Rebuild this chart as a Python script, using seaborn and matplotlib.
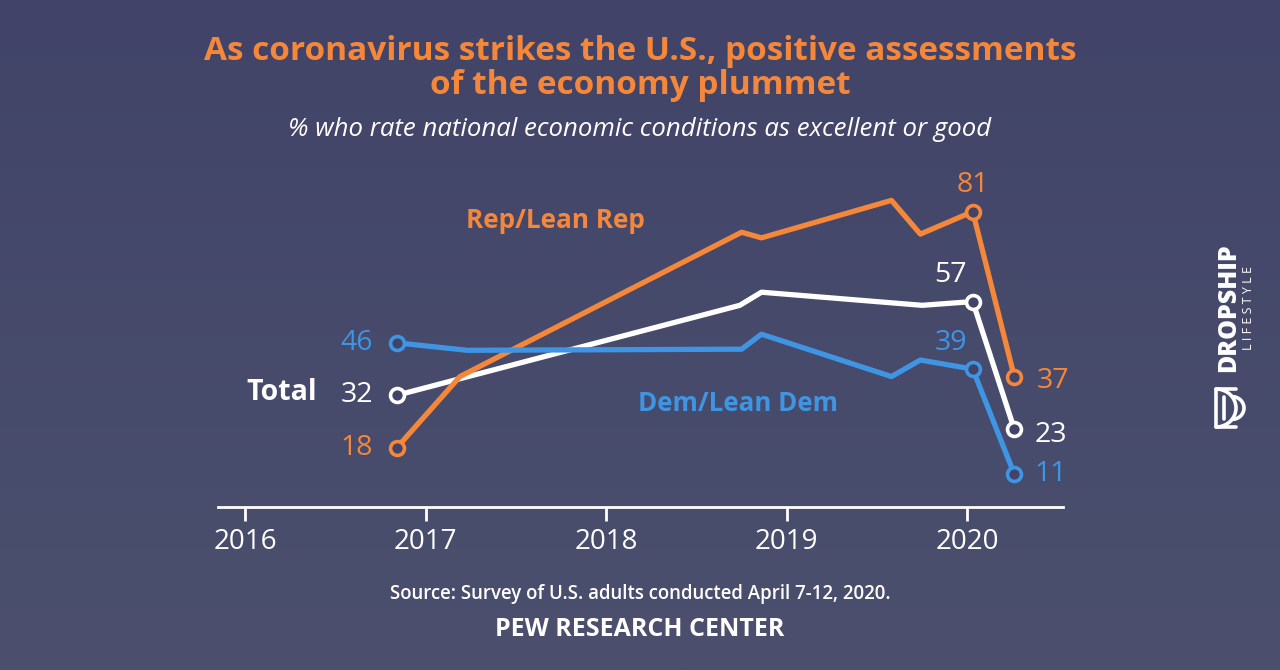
import matplotlib
matplotlib.use("Agg")
import matplotlib.pyplot as plt
import numpy as np
import pandas as pd
import seaborn as sns
from matplotlib.patches import Arc

# Data
rep_x = [2016.84, 2017.19, 2018.75, 2018.86, 2019.58, 2019.74, 2020.03, 2020.26]
rep_y = [18, 37, 75.5, 74, 84, 75, 81, 37]
total_x = [2016.84, 2018.74, 2018.86, 2019.75, 2020.03, 2020.26]
total_y = [32, 56, 59.5, 56, 57, 23]
dem_x = [2016.84, 2017.23, 2018.75, 2018.86, 2019.58, 2019.74, 2020.03, 2020.26]
dem_y = [46, 44, 44.3, 48.3, 37, 41.4, 39, 11]
years = [2016, 2017, 2018, 2019, 2020]

BG_TOP = "#414468"
BG_BOT = "#4c506e"
ORANGE = "#f5873a"
WHITE = "#ffffff"
BLUE = "#3f95e3"

sns.set_style("white")
plt.rcParams["font.family"] = ["Open Sans", "DejaVu Sans"]

fig = plt.figure(figsize=(12.8, 6.7), dpi=100)

# Background gradient
bg = fig.add_axes([0, 0, 1, 1])
grad = np.linspace(0, 1, 256).reshape(-1, 1)
cmap = matplotlib.colors.LinearSegmentedColormap.from_list("bg", [BG_TOP, BG_BOT])
bg.imshow(grad, aspect="auto", cmap=cmap, extent=[0, 1, 1, 0])
bg.set_axis_off()

# Main axes
ax = fig.add_axes([218 / 1280, (670 - 507) / 670, 845 / 1280, (507 - 170) / 670])
ax.patch.set_alpha(0)

frames = []
for name, xs, ys in [("Total", total_x, total_y), ("Rep", rep_x, rep_y), ("Dem", dem_x, dem_y)]:
    frames.append(pd.DataFrame({"year": xs, "value": ys, "group": name}))
df = pd.concat(frames, ignore_index=True)

palette = {"Total": WHITE, "Rep": ORANGE, "Dem": BLUE}
sns.lineplot(data=df, x="year", y="value", hue="group", palette=palette,
             linewidth=3.8, sort=False, legend=False, ax=ax)

# End markers (first, Jan 2020, latest)
for xs, ys, c in [(total_x, total_y, WHITE), (rep_x, rep_y, ORANGE), (dem_x, dem_y, BLUE)]:
    idx = [0, len(xs) - 2, len(xs) - 1]
    ax.plot([xs[i] for i in idx], [ys[i] for i in idx], linestyle="none", marker="o",
            markersize=10, markerfacecolor=BG_TOP, markeredgecolor=c,
            markeredgewidth=2.6, zorder=5)

ax.set_xlim(2015.85, 2020.53)
ax.set_ylim(2.2, 92.1)
ax.set_xticks(years)
ax.set_xticklabels([str(y) for y in years], fontsize=20, color=WHITE)
ax.set_yticks([])
ax.tick_params(axis="x", bottom=True, direction="out", length=10, width=2,
               color=WHITE, pad=5)
for s in ["top", "right", "left"]:
    ax.spines[s].set_visible(False)
ax.spines["bottom"].set_color(WHITE)
ax.spines["bottom"].set_linewidth(2)
ax.set_xlabel("")
ax.set_ylabel("")

# Value labels
def lab(txt, x, y, dx, dy, color, ha, weight="normal"):
    ax.annotate(txt, (x, y), xytext=(dx, dy), textcoords="offset pixels",
                ha=ha, va="center", fontsize=20.5, color=color, fontweight=weight)

lab(f"{dem_y[0]:.0f}", dem_x[0], dem_y[0], -24, 0, BLUE, "right")
lab(f"{total_y[0]:.0f}", total_x[0], total_y[0], -24, 0, WHITE, "right")
lab("Total", total_x[0], total_y[0], -80, 3, WHITE, "right", "bold")
lab(f"{rep_y[0]:.0f}", rep_x[0], rep_y[0], -24, 0, ORANGE, "right")
lab(f"{rep_y[-2]:.0f}", rep_x[-2], rep_y[-2], 0, 27, ORANGE, "center")
lab(f"{total_y[-2]:.0f}", total_x[-2], total_y[-2], -22, 27, WHITE, "center")
lab(f"{dem_y[-2]:.0f}", dem_x[-2], dem_y[-2], -22, 26, BLUE, "center")
lab(f"{rep_y[-1]:.0f}", rep_x[-1], rep_y[-1], 22, -4, ORANGE, "left")
lab(f"{total_y[-1]:.0f}", total_x[-1], total_y[-1], 20, -6, WHITE, "left")
lab(f"{dem_y[-1]:.0f}", dem_x[-1], dem_y[-1], 20, 0, BLUE, "left")

ax.text(2017.72, 78.5, "Rep/Lean Rep", color=ORANGE, fontsize=18.8, fontweight="bold",
        ha="center", va="center")
ax.text(2018.73, 29.7, "Dem/Lean Dem", color=BLUE, fontsize=18.6, fontweight="bold",
        ha="center", va="center")

# Titles and footer
fig.text(0.5, 1 - 52 / 670, "As coronavirus strikes the U.S., positive assessments",
         ha="center", va="center", fontsize=24, fontweight="bold", color=ORANGE)
fig.text(0.5, 1 - 86 / 670, "of the economy plummet",
         ha="center", va="center", fontsize=24, fontweight="bold", color=ORANGE)
fig.text(0.5, 1 - 129 / 670, "% who rate national economic conditions as excellent or good",
         ha="center", va="center", fontsize=18.5, fontstyle="italic", color=WHITE)
fig.text(0.5, 1 - 594 / 670, "Source: Survey of U.S. adults conducted April 7-12, 2020.",
         ha="center", va="center", fontsize=13.4, fontweight="semibold", color=WHITE)
fig.text(0.5, 1 - 630 / 670, "PEW RESEARCH CENTER",
         ha="center", va="center", fontsize=18, fontweight="bold", color=WHITE)

# Watermark logo
fig.text(1229 / 1280, 1 - 308 / 670, "DROPSHIP", rotation=90, ha="center", va="center",
         fontsize=18, fontweight="heavy", color=WHITE)
fig.text(1249 / 1280, 1 - 308 / 670, "L I F E S T Y L E", rotation=90, ha="center",
         va="center", fontsize=9, color=WHITE)
logo = fig.add_axes([1212 / 1280, 1 - 430 / 670, 44 / 1280, 44 / 670])
logo.set_xlim(0, 44)
logo.set_ylim(0, 44)
logo.set_axis_off()
for r, x0 in [(20, 2), (12, 10)]:
    logo.add_patch(Arc((x0 + 20 - r + 2, 22), 2 * r, 2 * r * 0.95, theta1=-90, theta2=90,
                       color=WHITE, lw=2.6))
logo.plot([4, 4], [3, 41], color=WHITE, lw=2.6)
logo.plot([4, 24], [41, 41], color=WHITE, lw=2.6)
logo.plot([4, 24], [3, 3], color=WHITE, lw=2.6)
logo.plot([12, 12], [11, 33], color=WHITE, lw=2.6)

fig.savefig("out.png", dpi=100)
